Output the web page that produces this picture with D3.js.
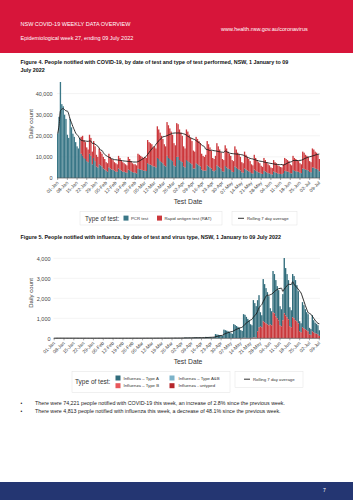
<!DOCTYPE html>
<html>
<head>
<meta charset="utf-8">
<script src="https://cdn.jsdelivr.net/npm/d3@7"></script>
<style>
body { margin: 0; background: #fff; }
svg { display: block; font-family: "Liberation Sans", Arial, sans-serif; }
</style>
</head>
<body>
<script>
// weekly tick labels, 01-Jan .. 09-Jul
var tickLabels = ["01-Jan","08-Jan","15-Jan","22-Jan","29-Jan","05-Feb","12-Feb","19-Feb","26-Feb",
    "05-Mar","12-Mar","19-Mar","26-Mar","02-Apr","09-Apr","16-Apr","23-Apr","30-Apr","07-May",
    "14-May","21-May","28-May","04-Jun","11-Jun","18-Jun","25-Jun","02-Jul","09-Jul"];

// COVID-19 cases per day (rows are Sat..Fri weeks from 1 Jan)
var covidPcr = [
    21000, 29000, 45500, 35000, 34000, 30000, 28000,
    20500, 19000, 28000, 24000, 21000, 19500, 17000,
    15000, 14000, 19000, 11500, 10500, 9500, 9000,
    8000, 7500, 11500, 10500, 6500, 9500, 8000,
    5500, 5000, 6500, 6000, 5500, 4500, 4000,
    3500, 3000, 5000, 4500, 4000, 4000, 3500,
    3000, 3000, 4500, 4000, 3500, 3000, 3000,
    2700, 2500, 4000, 3700, 3200, 2800, 2600,
    2500, 2200, 4500, 4200, 4000, 3800, 3500,
    3500, 3300, 7000, 6500, 6300, 6000, 5500,
    5500, 5000, 9500, 9000, 8000, 7500, 7000,
    6000, 5500, 10500, 9500, 9000, 8500, 8000,
    6000, 5500, 10000, 10000, 8500, 8000, 7500,
    5500, 5000, 8500, 8000, 7500, 7000, 6500,
    4500, 4500, 7000, 6500, 6000, 5500, 4000,
    3500, 3500, 3500, 6000, 5500, 5000, 4500,
    3500, 3200, 3700, 6000, 5500, 5000, 4500,
    3200, 3000, 5700, 5000, 4500, 4200, 3800,
    3000, 2800, 5500, 4900, 4300, 4000, 3600,
    2700, 2500, 4500, 4000, 3600, 3200, 2900,
    2300, 2100, 4000, 3400, 3100, 2700, 2500,
    2100, 1900, 3400, 3100, 2700, 2300, 2200,
    1800, 1700, 3100, 2700, 2500, 2200, 2000,
    1900, 1800, 2300, 3400, 3200, 3100, 2900,
    2300, 2200, 3800, 3400, 3200, 3100, 2900,
    2500, 2300, 4500, 4300, 4000, 3800, 3600,
    2900, 2700, 5000, 4900, 4500, 4300, 4000,
    3200
];
var covidRat = [
    0, 0, 0, 0, 0, 0, 0,
    0, 0, 0, 0, 0, 0, 0,
    0, 0, 0, 8000, 9500, 8500, 8000,
    6500, 6000, 9000, 8500, 6000, 8000, 7000,
    5500, 5000, 7500, 6500, 6000, 5500, 5000,
    4000, 4000, 6500, 5500, 5000, 4500, 4000,
    4000, 3500, 6000, 5500, 5000, 4500, 4000,
    3800, 3500, 6000, 5300, 4800, 4200, 3900,
    4000, 3800, 7000, 6800, 6500, 6200, 6000,
    6500, 6200, 11000, 10500, 10200, 10000, 9000,
    9500, 9000, 15000, 14000, 13500, 12500, 11500,
    10000, 9500, 16000, 15500, 14500, 13500, 12500,
    10500, 10000, 16000, 15500, 14500, 13500, 12500,
    9500, 9000, 14500, 14000, 13000, 12000, 11000,
    8500, 8000, 12500, 12000, 11500, 11000, 7500,
    7000, 6500, 7500, 11500, 10500, 9500, 8500,
    6000, 5800, 6800, 10500, 9500, 8500, 7500,
    5800, 5500, 9800, 9000, 8000, 7300, 6700,
    5500, 5200, 9500, 8600, 7700, 7000, 6400,
    4800, 4500, 8000, 7000, 6400, 5800, 5100,
    4200, 3900, 7000, 6100, 5400, 4800, 4500,
    3700, 3400, 6100, 5400, 4800, 4200, 3800,
    3200, 3000, 5400, 4800, 4500, 3800, 3600,
    3300, 3200, 4200, 6100, 5800, 5400, 5100,
    4200, 3800, 6700, 6100, 5800, 5400, 5100,
    4500, 4200, 8000, 7700, 7000, 6700, 6400,
    5100, 4800, 9000, 8600, 8000, 7700, 7000,
    5800
];

// influenza notifications per day
var fluA = [
    4, 3, 9, 7, 6, 5, 5,
    3, 2, 8, 7, 6, 5, 4,
    2, 2, 7, 6, 5, 4, 4,
    2, 1, 6, 5, 3, 5, 4,
    2, 2, 6, 5, 5, 4, 3,
    1, 2, 5, 6, 4, 4, 3,
    2, 1, 6, 5, 5, 4, 4,
    2, 2, 7, 6, 5, 5, 4,
    3, 2, 8, 7, 6, 6, 5,
    3, 3, 10, 9, 8, 7, 7,
    4, 3, 12, 11, 10, 9, 8,
    5, 4, 15, 14, 12, 11, 10,
    6, 5, 18, 17, 15, 14, 12,
    15, 12, 35, 30, 28, 25, 22,
    20, 18, 45, 40, 38, 35, 25,
    25, 22, 30, 70, 65, 60, 55,
    45, 40, 60, 210, 190, 175, 160,
    130, 115, 430, 400, 380, 350, 320,
    250, 220, 690, 650, 600, 560, 520,
    400, 360, 1180, 1150, 1050, 950, 880,
    680, 635, 1860, 1715, 1570, 1550, 1600,
    700, 600, 2100, 1900, 1750, 1600, 1450,
    800, 700, 2050, 1950, 1800, 1600, 1500,
    950, 850, 1300, 2750, 2350, 2150, 1950,
    950, 850, 2150, 2100, 2000, 1800, 1600,
    500, 450, 1250, 1150, 1000, 900, 850,
    320, 280, 800, 600, 530, 490, 450,
    280
];
var fluB = [
    0, 0, 1, 0, 0, 0, 0,
    0, 0, 0, 1, 0, 0, 0,
    0, 0, 0, 0, 1, 0, 0,
    0, 0, 1, 0, 0, 0, 0,
    0, 0, 0, 0, 0, 1, 0,
    0, 0, 1, 0, 0, 0, 0,
    0, 0, 0, 1, 0, 0, 0,
    0, 0, 1, 0, 0, 0, 1,
    0, 0, 1, 0, 0, 1, 0,
    0, 0, 1, 1, 0, 0, 0,
    0, 0, 1, 0, 1, 0, 0,
    0, 0, 1, 1, 0, 1, 0,
    0, 0, 2, 1, 1, 0, 1,
    0, 1, 2, 1, 1, 1, 0,
    1, 0, 2, 2, 1, 1, 0,
    0, 1, 1, 2, 2, 1, 1,
    1, 0, 1, 3, 2, 2, 2,
    1, 1, 4, 3, 3, 2, 2,
    2, 1, 5, 4, 4, 3, 3,
    2, 2, 7, 6, 5, 5, 4,
    3, 3, 9, 8, 7, 7, 6,
    4, 3, 10, 9, 8, 7, 6,
    4, 3, 12, 11, 9, 8, 7,
    4, 4, 8, 12, 10, 9, 8,
    4, 3, 11, 10, 9, 8, 7,
    3, 2, 8, 7, 6, 5, 5,
    2, 2, 5, 4, 4, 3, 3,
    2
];
var fluAB = [
    0, 0, 0, 0, 0, 0, 0,
    0, 0, 0, 0, 0, 0, 0,
    0, 0, 0, 0, 0, 0, 0,
    0, 0, 0, 0, 0, 0, 0,
    0, 0, 0, 0, 0, 0, 0,
    0, 0, 0, 0, 0, 0, 0,
    0, 0, 0, 0, 0, 0, 0,
    0, 0, 0, 0, 0, 0, 0,
    0, 0, 0, 0, 0, 0, 0,
    0, 0, 0, 0, 0, 0, 0,
    0, 0, 0, 0, 0, 0, 0,
    0, 0, 0, 0, 0, 0, 0,
    0, 0, 0, 0, 0, 0, 0,
    0, 0, 0, 0, 0, 0, 0,
    0, 0, 0, 0, 0, 0, 0,
    0, 0, 0, 0, 0, 0, 0,
    0, 0, 0, 0, 0, 0, 0,
    0, 0, 0, 1, 0, 0, 0,
    0, 0, 1, 0, 0, 0, 0,
    0, 0, 1, 0, 1, 0, 0,
    0, 0, 1, 1, 0, 0, 1,
    0, 0, 1, 1, 1, 0, 0,
    0, 1, 2, 1, 1, 1, 0,
    0, 0, 1, 2, 1, 1, 1,
    0, 0, 2, 1, 1, 1, 0,
    0, 0, 1, 1, 0, 1, 0,
    0, 0, 1, 0, 0, 0, 0,
    0
];
var fluUntyped = [
    0, 0, 0, 0, 0, 0, 0,
    0, 0, 0, 0, 0, 0, 0,
    0, 0, 0, 0, 0, 0, 0,
    0, 0, 0, 0, 0, 0, 0,
    0, 0, 0, 0, 0, 0, 0,
    0, 0, 0, 0, 0, 0, 0,
    0, 0, 0, 0, 0, 0, 0,
    0, 0, 0, 0, 0, 0, 0,
    0, 0, 0, 0, 0, 0, 0,
    0, 0, 0, 0, 0, 0, 0,
    0, 0, 0, 0, 0, 0, 0,
    0, 0, 0, 0, 0, 0, 0,
    0, 0, 0, 0, 0, 0, 0,
    0, 0, 0, 0, 0, 0, 0,
    0, 0, 0, 0, 0, 0, 0,
    0, 0, 0, 0, 0, 0, 0,
    0, 0, 0, 0, 0, 0, 0,
    0, 0, 1, 1, 0, 1, 0,
    5, 4, 12, 10, 9, 8, 8,
    8, 6, 20, 18, 15, 14, 12,
    20, 15, 40, 35, 30, 350, 550,
    600, 550, 850, 800, 750, 700, 650,
    700, 650, 1300, 1250, 1100, 1000, 900,
    650, 600, 900, 1250, 1150, 1050, 950,
    600, 550, 1050, 1000, 900, 850, 750,
    350, 300, 550, 500, 450, 400, 350,
    200, 180, 350, 300, 250, 230, 200,
    120
];

var width = 353;
var height = 500;
var font = "'Liberation Sans', Arial, sans-serif";

var days = d3.timeDay.range(new Date(2022, 0, 1), new Date(2022, 6, 10));
var tickDays = tickLabels.map(function (d, i) { return days[i * 7]; });

var svg = d3.select("body").append("svg")
    .attr("width", width)
    .attr("height", height);

// header band
svg.append("rect").attr("width", width).attr("height", 53).attr("fill", "#d7153a");
svg.append("text").attr("x", 20.5).attr("y", 26.3).attr("font-size", 5.5).attr("fill", "#fff")
    .text("NSW COVID-19 WEEKLY DATA OVERVIEW");
svg.append("text").attr("x", 20.5).attr("y", 40.3).attr("font-size", 5.5).attr("fill", "#fff")
    .text("Epidemiological week 27, ending 09 July 2022");
svg.append("text").attr("x", 221).attr("y", 31).attr("font-size", 5.5).attr("fill", "#fff")
    .text("www.health.nsw.gov.au/coronavirus");

// footer band
svg.append("rect").attr("y", 482).attr("width", width).attr("height", 18).attr("fill", "#243672");
svg.append("text").attr("x", 323).attr("y", 492).attr("font-size", 5).attr("fill", "#fff").text("7");

function title(lines, y0) {
    lines.forEach(function (t, i) {
        svg.append("text").attr("x", 20.5).attr("y", y0 + i * 7.3)
            .attr("font-size", 5.4).attr("font-weight", "bold").attr("fill", "#111").text(t);
    });
}

title(["Figure 4. People notified with COVID-19, by date of test and type of test performed, NSW, 1 January to 09",
    "July 2022"], 64.3);
title(["Figure 5. People notified with influenza, by date of test and virus type, NSW, 1 January to 09 July 2022"], 238.8);

function rolling(total) {
    return total.map(function (v, i) {
        var win = total.slice(Math.max(0, i - 6), i + 1);
        return d3.mean(win);
    });
}

function drawChart(o) {
    var g = svg.append("g");
    var x = d3.scaleBand().domain(days).range([o.x0, o.x1]).paddingInner(0.04);
    var y = d3.scaleLinear().domain([0, o.yMax]).range([o.y0, o.yTop]);

    g.selectAll("line.grid")
        .data(o.yTicks.filter(function (d) { return d > 0; }))
        .enter().append("line")
        .attr("class", "grid")
        .attr("x1", o.x0).attr("x2", o.x1)
        .attr("y1", function (d) { return y(d); })
        .attr("y2", function (d) { return y(d); })
        .attr("stroke", "#ebebeb").attr("stroke-width", 0.6);

    var rows = days.map(function (d, i) {
        var r = { day: d };
        o.keys.forEach(function (k, j) { r[k] = o.series[j][i]; });
        return r;
    });
    var stacked = d3.stack().keys(o.keys)(rows);

    g.selectAll("g.layer")
        .data(stacked)
        .enter().append("g")
        .attr("class", "layer")
        .attr("fill", function (d, i) { return o.colors[i]; })
        .selectAll("rect")
        .data(function (d) { return d; })
        .enter().append("rect")
        .attr("x", function (d) { return x(d.data.day); })
        .attr("width", x.bandwidth())
        .attr("y", function (d) { return y(d[1]); })
        .attr("height", function (d) { return y(d[0]) - y(d[1]); });

    // rolling 7 day average of the total
    var total = days.map(function (d, i) {
        return d3.sum(o.series, function (s) { return s[i]; });
    });
    var avg = rolling(total);
    var line = d3.line()
        .x(function (d, i) { return x(days[i]) + x.bandwidth() / 2; })
        .y(function (d) { return y(d); })
        .curve(d3.curveMonotoneX);
    g.append("path").datum(avg)
        .attr("d", line)
        .attr("fill", "none").attr("stroke", "#1b1b1b").attr("stroke-width", 0.9);

    var yAxis = d3.axisLeft(y).tickValues(o.yTicks).tickSize(0).tickPadding(o.yPad)
        .tickFormat(d3.format(","));
    var ya = g.append("g").attr("transform", `translate(${o.x0} 0)`).call(yAxis);
    ya.select(".domain").remove();
    ya.attr("font-family", font);
    ya.selectAll("text").attr("font-size", 5.5).attr("fill", "#444");

    var xAxis = d3.axisBottom(x).tickValues(tickDays).tickSize(2)
        .tickFormat(function (d, i) { return tickLabels[i]; });
    var xa = g.append("g").attr("transform", `translate(0 ${o.y0})`).call(xAxis);
    xa.attr("font-family", font);
    xa.select(".domain").attr("d", `M${o.x0},0H${o.x1}`).attr("stroke", "#555").attr("stroke-width", 0.7);
    xa.selectAll(".tick line").attr("stroke", "#555").attr("stroke-width", 0.5);
    xa.selectAll("text")
        .attr("y", 0).attr("dy", "0.35em")
        .attr("transform", "translate(0 4) rotate(-45)")
        .attr("text-anchor", "end")
        .attr("font-size", 4.8).attr("fill", "#444");

    svg.append("text")
        .attr("transform", `translate(${o.yLabelX} ${o.yLabelY}) rotate(-90)`)
        .attr("text-anchor", "middle").attr("dy", "0.35em")
        .attr("font-size", 6).attr("fill", "#333").text("Daily count");
    svg.append("text")
        .attr("x", o.xLabelX).attr("y", o.xLabelY).attr("text-anchor", "middle")
        .attr("font-size", 6.8).attr("fill", "#333").text("Test Date");
}

drawChart({
    series: [covidPcr, covidRat],
    keys: ["pcr", "rat"],
    colors: ["#3a7787", "#cc383c"],
    x0: 57, x1: 320, y0: 178, yTop: 93.6, yMax: 40000,
    yTicks: [0, 10000, 20000, 30000, 40000], yPad: 4.5,
    yLabelX: 31, yLabelY: 124, xLabelX: 188, xLabelY: 204.3
});

drawChart({
    series: [fluUntyped, fluB, fluAB, fluA],
    keys: ["untyped", "b", "ab", "a"],
    colors: ["#c9383c", "#e8575b", "#7db3c9", "#326d7c"],
    x0: 53.5, x1: 320, y0: 338.3, yTop: 258.3, yMax: 4000,
    yTicks: [0, 1000, 2000, 3000, 4000], yPad: 3,
    yLabelX: 31, yLabelY: 293, xLabelX: 188, xLabelY: 364
});

// legends
function box(x, y, w, h) {
    svg.append("rect").attr("x", x).attr("y", y).attr("width", w).attr("height", h)
        .attr("fill", "#fff").attr("stroke", "#e2e2e2").attr("stroke-width", 0.5);
}
function swatch(x, y, c) {
    svg.append("rect").attr("x", x).attr("y", y).attr("width", 5).attr("height", 5).attr("fill", c);
}
function label(x, y, t, s) {
    svg.append("text").attr("x", x).attr("y", y).attr("font-size", s || 4.3).attr("fill", "#333").text(t);
}
function avgKey(x, y) {
    svg.append("line").attr("x1", x).attr("x2", x + 6).attr("y1", y).attr("y2", y)
        .attr("stroke", "#1b1b1b").attr("stroke-width", 0.9);
    label(x + 9, y + 1.5, "Rolling 7 day average");
}

box(80, 211.5, 142, 13.5);
label(85, 220.6, "Type of test:", 6.3);
swatch(123.5, 215.6, "#3a7787");
label(131, 219.8, "PCR test");
swatch(157, 215.6, "#cc383c");
label(164.5, 219.8, "Rapid antigen test (RAT)");
box(232, 211.5, 65, 13.5);
avgKey(238, 218.3);

box(72, 371.5, 158, 21);
label(75, 384.3, "Type of test:", 6.5);
swatch(115.5, 375.5, "#326d7c");
label(123.5, 379.6, "Influenza \u2013 Type A");
swatch(169.5, 375.5, "#7db3c9");
label(178.5, 379.6, "Influenza \u2013 Type A&B");
swatch(115.5, 383.2, "#e8575b");
label(123.5, 387.3, "Influenza \u2013 Type B");
swatch(169.5, 383.2, "#b5262b");
label(178.5, 387.3, "Influenza - untyped");
box(235, 371.5, 68, 16);
avgKey(244, 379.2);

// summary bullets
var bullets = [
    "There were 74,221 people notified with COVID-19 this week, an increase of 2.8% since the previous week.",
    "There were 4,813 people notified with influenza this week, a decrease of 48.1% since the previous week."
];
svg.selectAll("g.bullet")
    .data(bullets)
    .enter().append("g")
    .attr("class", "bullet")
    .attr("transform", function (d, i) { return `translate(0 ${405.2 + i * 7.4})`; })
    .each(function (d) {
        var b = d3.select(this);
        b.append("text").attr("x", 20.5).attr("font-size", 5).attr("fill", "#222").text("\u2022");
        b.append("text").attr("x", 35).attr("font-size", 5.3).attr("fill", "#222").text(d);
    });
</script>
</body>
</html>
